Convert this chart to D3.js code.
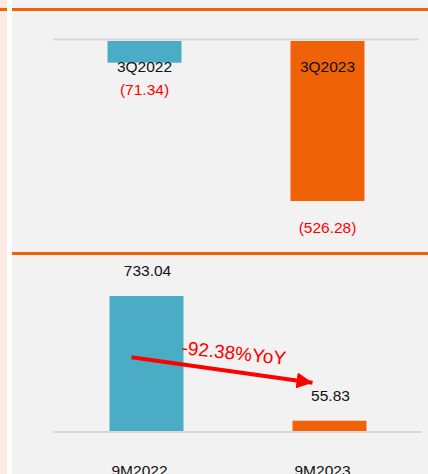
<!DOCTYPE html>
<html lang="en">
<head>
    <meta charset="UTF-8">
    <title>Quarter and nine-month results</title>
    <script src="https://d3js.org/d3.v7.min.js"></script>
    <style>
        body {
            margin: 0;
            padding: 0;
            font-family: "Liberation Sans", Arial, sans-serif;
            background: #ffffff;
        }
        svg { display: block; }
    </style>
</head>
<body>
    <svg class="chart"></svg>
    <script>
        // quarter panel (losses shown as negative values)
        const quarterLabels = ["3Q2022", "3Q2023"];
        const quarterValues = [-71.34, -526.28];
        const quarterText = ["(71.34)", "(526.28)"];

        // nine-month panel
        const ytdLabels = ["9M2022", "9M2023"];
        const ytdValues = [733.04, 55.83];
        const ytdText = ["733.04", "55.83"];
        const yoyText = "-92.38%YoY";

        const width = 428;
        const height = 474;
        const blue = "#4bacc6";
        const orange = "#f06208";
        const barColors = [blue, orange];
        const barWidth = 74;

        const svg = d3.select(".chart")
            .attr("width", width)
            .attr("height", height);

        // background, side strip and orange separators
        svg.append("rect").attr("width", width).attr("height", height).attr("fill", "#f2f2f2");
        svg.append("rect").attr("x", 0).attr("width", 7).attr("height", height).attr("fill", "#fde9e3");
        svg.append("rect").attr("x", 7).attr("width", 5).attr("height", height).attr("fill", "#ffffff");
        svg.append("rect").attr("x", 0).attr("y", 8).attr("width", 7).attr("height", 3).attr("fill", orange);
        svg.append("rect").attr("x", 12).attr("y", 8).attr("width", width - 12).attr("height", 3).attr("fill", orange);
        svg.append("rect").attr("x", 12).attr("y", 252).attr("width", width - 12).attr("height", 3).attr("fill", orange);

        // ---- top panel ----
        const xTop = d3.scalePoint().domain(quarterLabels).range([53, 419]).padding(0.5);
        const yTop = d3.scaleLinear().domain([0, -600]).range([41, 41 + 600 * 0.304]);

        svg.append("line")
            .attr("x1", 53).attr("x2", 419)
            .attr("y1", yTop(0) - 1.5).attr("y2", yTop(0) - 1.5)
            .attr("stroke", "#d9d9d9").attr("stroke-width", 2);

        const qPanel = svg.append("g");
        qPanel.selectAll("rect")
            .data(quarterValues)
            .enter()
            .append("rect")
            .attr("x", (d, i) => xTop(quarterLabels[i]) - barWidth / 2)
            .attr("y", yTop(0))
            .attr("width", barWidth)
            .attr("height", d => yTop(d) - yTop(0))
            .attr("fill", (d, i) => barColors[i]);

        qPanel.selectAll(".cat")
            .data(quarterLabels)
            .enter()
            .append("text")
            .attr("class", "cat")
            .attr("x", d => xTop(d))
            .attr("y", 72)
            .attr("text-anchor", "middle")
            .attr("font-size", "15.5px")
            .attr("fill", "#111")
            .text(d => d);

        qPanel.selectAll(".val")
            .data(quarterValues)
            .enter()
            .append("text")
            .attr("class", "val")
            .attr("x", (d, i) => xTop(quarterLabels[i]))
            .attr("y", d => yTop(d) + 32)
            .attr("text-anchor", "middle")
            .attr("font-size", "15.5px")
            .attr("fill", "#ff0000")
            .text((d, i) => quarterText[i]);

        // ---- bottom panel ----
        const xBot = d3.scalePoint().domain(ytdLabels).range([55, 421]).padding(0.5);
        const yBot = d3.scaleLinear().domain([0, 800]).range([431, 431 - 800 * 0.1842]);

        svg.append("line")
            .attr("x1", 53).attr("x2", 422)
            .attr("y1", yBot(0) + 1).attr("y2", yBot(0) + 1)
            .attr("stroke", "#d9d9d9").attr("stroke-width", 2);

        const yPanel = svg.append("g");
        yPanel.selectAll("rect")
            .data(ytdValues)
            .enter()
            .append("rect")
            .attr("x", (d, i) => xBot(ytdLabels[i]) - barWidth / 2)
            .attr("y", d => yBot(d))
            .attr("width", barWidth)
            .attr("height", d => yBot(0) - yBot(d))
            .attr("fill", (d, i) => barColors[i]);

        yPanel.selectAll(".val")
            .data(ytdValues)
            .enter()
            .append("text")
            .attr("class", "val")
            .attr("x", (d, i) => xBot(ytdLabels[i]) + 1)
            .attr("y", d => yBot(d) - 20)
            .attr("text-anchor", "middle")
            .attr("font-size", "15.5px")
            .attr("fill", "#111")
            .text((d, i) => ytdText[i]);

        yPanel.selectAll(".cat")
            .data(ytdLabels)
            .enter()
            .append("text")
            .attr("class", "cat")
            .attr("x", d => xBot(d) - 7)
            .attr("y", 476)
            .attr("text-anchor", "middle")
            .attr("font-size", "15.5px")
            .attr("fill", "#111")
            .text(d => d);

        // YoY arrow
        const defs = svg.append("defs");
        defs.append("marker")
            .attr("id", "head")
            .attr("viewBox", "0 0 10 10")
            .attr("refX", 10).attr("refY", 5)
            .attr("markerWidth", 4).attr("markerHeight", 4.2)
            .attr("markerUnits", "strokeWidth")
            .attr("orient", "auto")
            .append("path")
            .attr("d", "M0,0 L10,5 L0,10 Z")
            .attr("fill", "#ff0000");

        const x0 = xBot(ytdLabels[0]) - 15, y0 = yBot(400);
        const x1 = xBot(ytdLabels[1]) - 17, y1 = yBot(ytdValues[1]) - 38;
        const ang = Math.atan2(y1 - y0, x1 - x0);
        svg.append("line")
            .attr("x1", x0).attr("y1", y0)
            .attr("x2", x1).attr("y2", y1)
            .attr("stroke", "#ff0000")
            .attr("stroke-width", 4)
            .attr("marker-end", "url(#head)");

        svg.append("text")
            .attr("transform", `translate(181,354) rotate(${(ang * 180 / Math.PI) - 2})`)
            .attr("font-size", "19px")
            .attr("fill", "#ff0000")
            .text(yoyText);
    </script>
</body>
</html>
